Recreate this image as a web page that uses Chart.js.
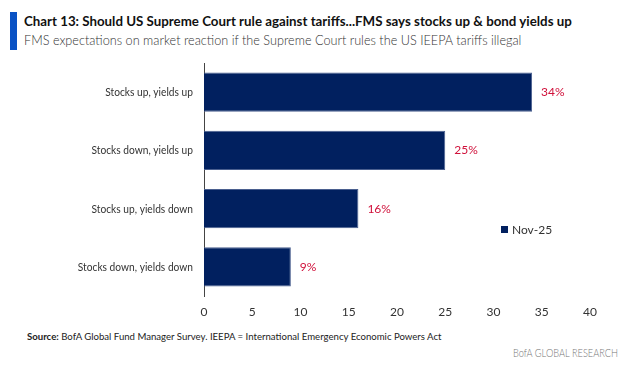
<!DOCTYPE html>
<html>
<head>
<meta charset="utf-8">
<script src="https://cdn.jsdelivr.net/npm/chart.js@4"></script>
<style>
  body { margin: 0; background: #fff; font-family: Lato, "Open Sans", sans-serif; }
  #wrap { position: relative; width: 631px; height: 367px; overflow: hidden; background: #fff; }
  .accent { position: absolute; left: 10px; top: 12px; width: 7px; height: 38px; background: #0a52c4; }
  .title { position: absolute; left: 24px; top: 12px; font-size: 14px; font-weight: bold; color: #111; white-space: nowrap; transform: scaleX(0.95); transform-origin: left; }
  .sub { position: absolute; left: 24px; top: 32px; font-size: 13px; color: #333; white-space: nowrap; font-weight: 300; transform: scaleX(0.975); transform-origin: left; }
  .source { position: absolute; left: 27px; top: 330px; font-size: 10px; color: #222; white-space: nowrap; transform: scaleX(0.96); transform-origin: left; }
  .brand { position: absolute; left: 513px; top: 346px; font-size: 11px; color: #777; font-weight: 300; white-space: nowrap; transform: scaleX(0.84); transform-origin: left; }
  .legend { position: absolute; left: 501px; top: 222px; font-size: 12px; color: #333; white-space: nowrap; }
  .legend span { display: inline-block; width: 7px; height: 7px; background: #01205f; margin-right: 4px; vertical-align: 1px; }
  #c { position: absolute; left: 0; top: 55px; }
</style>
</head>
<body>
<div id="wrap">
  <div class="accent"></div>
  <div class="title">Chart 13: Should US Supreme Court rule against tariffs...FMS says stocks up &amp; bond yields up</div>
  <div class="sub">FMS expectations on market reaction if the Supreme Court rules the US IEEPA tariffs illegal</div>
  <canvas id="c" width="631" height="270"></canvas>
  <div class="legend"><span></span>Nov-25</div>
  <div class="source"><b>Source:</b> BofA Global Fund Manager Survey. IEEPA = International Emergency Economic Powers Act</div>
  <div class="brand">BofA GLOBAL RESEARCH</div>
</div>
<script>
const categories = ["Stocks up, yields up", "Stocks down, yields up", "Stocks up, yields down", "Stocks down, yields down"];
const nov25 = [34, 25, 16, 9];
const seriesName = "Nov-25";

// value labels at bar ends, and narrow category labels drawn from the y scale
const labelsPlugin = {
  id: "labelsPlugin",
  afterDatasetsDraw(chart) {
    const ctx = chart.ctx;
    const meta = chart.getDatasetMeta(0);
    const yScale = chart.scales.y;
    ctx.save();
    ctx.font = "12px Lato, sans-serif";
    ctx.fillStyle = "#d0103a";
    ctx.textBaseline = "middle";
    meta.data.forEach((bar, i) => {
      ctx.fillText(nov25[i] + "%", bar.x + 9, bar.y);
    });
    ctx.fillStyle = "#333";
    ctx.textAlign = "right";
    chart.data.labels.forEach((lab, i) => {
      const y = yScale.getPixelForTick(i);
      ctx.save();
      ctx.translate(yScale.right - 11, y);
      ctx.scale(0.85, 1);
      ctx.fillText(lab, 0, 0);
      ctx.restore();
    });
    ctx.restore();
  }
};

new Chart(document.getElementById("c"), {
  type: "bar",
  data: {
    labels: categories,
    datasets: [{
      label: seriesName,
      data: nov25,
      backgroundColor: "#01205f",
      borderColor: "#4a5f8f",
      borderWidth: 1,
      barPercentage: 0.67,
      categoryPercentage: 1
    }]
  },
  options: {
    indexAxis: "y",
    responsive: false,
    animation: false,
    layout: { padding: { top: 8, right: 41, bottom: 0, left: 0 } },
    plugins: { legend: { display: false }, tooltip: { enabled: false } },
    scales: {
      x: {
        min: 0, max: 40,
        ticks: { stepSize: 5, padding: 9, color: "#333", font: { family: "Lato", size: 12 } },
        grid: { display: false, drawTicks: false },
        border: { display: false },
        afterFit: (s) => { s.height = 29; }
      },
      y: {
        ticks: { display: false },
        grid: { display: false, drawTicks: false },
        border: { display: true, color: "#444", width: 1 },
        afterFit: (s) => { s.width = 204; }
      }
    }
  },
  plugins: [labelsPlugin]
});
</script>
</body>
</html>
